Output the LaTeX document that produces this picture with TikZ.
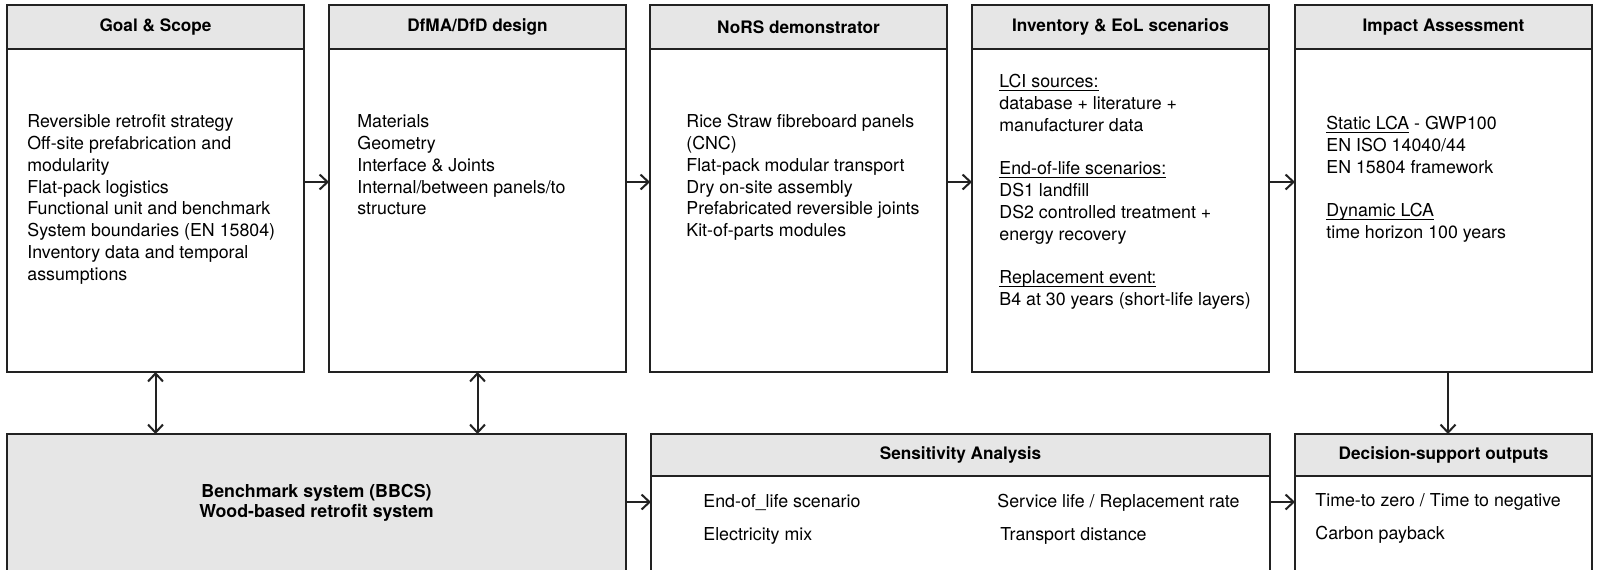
\documentclass[tikz,border=0pt]{standalone}
\usepackage{fontspec}
\setmainfont{TeX Gyre Heros}
\usetikzlibrary{arrows.meta,calc}

\definecolor{ink}{HTML}{222222}
\definecolor{headfill}{HTML}{E6E6E6}

% underline at a fixed depth, crossing descenders
\newcommand\lineunder[1]{\setbox0\hbox{#1}\rlap{\rule[-1.6pt]{\wd0}{0.45pt}}\box0\relax}

\begin{document}
\begin{tikzpicture}[x=0.5pt,y=-0.5pt,
  frame/.style={draw=ink, line width=1.1pt, inner sep=0pt, outer sep=0pt},
  topbox/.style={frame, minimum width=148.5pt, minimum height=183.5pt},
  tophead/.style={frame, fill=headfill, minimum width=148.5pt, minimum height=22pt,
    font=\bfseries\fontsize{8.6}{10}\selectfont},
  lowhead/.style={frame, fill=headfill, minimum height=21pt,
    font=\bfseries\fontsize{8.6}{10}\selectfont},
  body/.style={anchor=north west, align=left, inner sep=0pt,
    font=\fontsize{8.9}{10.9}\selectfont},
  item/.style={anchor=west, inner sep=0pt, text height=6.5pt, text depth=1.8pt,
    font=\fontsize{8.9}{10.9}\selectfont},
  barb/.tip={Straight Barb[length=4pt,width=7.5pt]},
  link/.style={draw=ink, line width=1pt, -barb},
  twoway/.style={draw=ink, line width=1pt, barb-barb},
]
\useasboundingbox[fill=white] (0,0) rectangle (1598,569);

% upper row of stages
\node[topbox] (goal) at (155.5,188.5) {};
\node[topbox] (dfma) at (477.5,188.5) {};
\node[topbox] (nors) at (798.5,188.5) {};
\node[topbox] (inv)  at (1120.5,188.5) {};
\node[topbox] (ia)   at (1443.5,188.5) {};

\node[tophead] (goalh) at (155.5,27) {Goal \& Scope};
\node[tophead] (dfmah) at (477.5,27) {DfMA/DfD design};
\node[tophead] (norsh) at (798.5,27) {NoRS demonstrator};
\node[tophead] (invh)  at (1120.5,27) {Inventory \& EoL scenarios};
\node[tophead] (iah)   at (1443.5,27) {Impact Assessment};

\node[body] (goalt) at (27,112) {\strut Reversible retrofit strategy\\
  Off-site prefabrication and\\ modularity\\ Flat-pack logistics\\
  Functional unit and benchmark\\ System boundaries (EN 15804)\\
  Inventory data and temporal\\ assumptions};
\node[body] (dfmat) at (357,112) {\strut Materials\\ Geometry\\
  Interface \& Joints\\ Internal/between panels/to\\ structure};
\node[body] (norst) at (686,112) {\strut Rice Straw fibreboard panels\\ (CNC)\\
  Flat-pack modular transport\\ Dry on-site assembly\\
  Prefabricated reversible joints\\ Kit-of-parts modules};
\node[body] (invt) at (999,72) {\strut\lineunder{LCI sources:}\\
  database + literature +\\ manufacturer data\\[10.9pt]
  \lineunder{End-of-life scenarios:}\\ DS1 landfill\\
  DS2 controlled treatment +\\ energy recovery\\[10.9pt]
  \lineunder{Replacement event:}\\ B4 at 30 years (short-life layers)};
\node[body] (iat) at (1326,114) {\strut\lineunder{Static LCA} - GWP100\\
  EN ISO 14040/44\\ EN 15804 framework\\[10.9pt]
  \lineunder{Dynamic LCA}\\ time horizon 100 years};

% lower row
\node[frame, fill=headfill, minimum width=309.5pt, minimum height=68.5pt,
  align=center, font=\bfseries\fontsize{8.9}{10}\selectfont] (bench) at (316.5,502.5)
  {Benchmark system (BBCS)\\ Wood-based retrofit system};

\node[frame, minimum width=309.5pt, minimum height=68.5pt] (sens) at (960.5,502.5) {};
\node[lowhead, minimum width=309.5pt] (sensh) at (960.5,455) {Sensitivity Analysis};
\node[item] (s1) at (703,503) {End-of\_life scenario};
\node[item] (s2) at (703,536) {Electricity mix};
\node[item] (s3) at (997,503) {Service life / Replacement rate};
\node[item] (s4) at (1000,536) {Transport distance};

\node[frame, minimum width=148.5pt, minimum height=68.5pt] (dec) at (1443.5,502.5) {};
\node[lowhead, minimum width=148.5pt] (dech) at (1443.5,455) {Decision-support outputs};
\node[item] (d1) at (1315,502) {Time-to zero / Time to negative};
\node[item] (d2) at (1315,535) {Carbon payback};

% connectors
\coordinate (rowA) at (0,182);
\coordinate (rowB) at (0,502);
\coordinate (downx) at (1448,0);

\draw[link] (goal.east |- rowA) -- (dfma.west |- rowA);
\draw[link] (dfma.east |- rowA) -- (nors.west |- rowA);
\draw[link] (nors.east |- rowA) -- (inv.west |- rowA);
\draw[link] (inv.east |- rowA) -- (ia.west |- rowA);

\draw[twoway] (goal.south) -- (goal.south |- bench.north);
\draw[twoway] (dfma.south) -- (dfma.south |- bench.north);
\draw[link] (ia.south -| downx) -- (dech.north -| downx);

\draw[link] (bench.east |- rowB) -- (sens.west |- rowB);
\draw[link] (sens.east |- rowB) -- (dec.west |- rowB);
\end{tikzpicture}
\end{document}
